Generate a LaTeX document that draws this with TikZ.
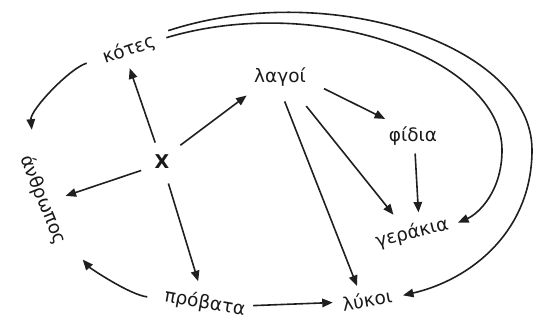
\documentclass[tikz,border=0pt]{standalone}
\usepackage{fontspec}
\setmainfont{DejaVu Sans}
\usetikzlibrary{arrows.meta}

\tikzset{
  animal/.style={font=\fontsize{18.5}{20}\selectfont, text=black!90, inner sep=0pt},
  eats/.style={draw=black!88, line width=1.6pt, -{Triangle[length=10.5pt,width=8.5pt]}},
}

\begin{document}
\begin{tikzpicture}[x=1pt, y=-1pt]
  \useasboundingbox (0,0) rectangle (540,323);

  % the animals, round the ring
  \node[animal, rotate=19]  (kotes)     at (129, 50) {κότες};
  \node[animal]             (lagoi)     at (280, 77) {λαγοί};
  \node[animal]             (fidia)     at (413,136) {φίδια};
  \node[animal, rotate=14]  (gerakia)   at (412,233) {γεράκια};
  \node[animal, rotate=10]  (lykoi)     at (367,300) {λύκοι};
  \node[animal, rotate=-10] (probata)   at (205,303) {πρόβατα};
  \node[animal, rotate=-68] (anthropos) at ( 43,200) {άνθρωπος};

  % X in the middle
  \node[animal, font=\fontsize{19}{20}\selectfont\bfseries] (X) at (162,162) {X};

  % out of X
  \draw[eats, shorten <=13pt, shorten >=8pt]  (X.110) -- (kotes.241);
  \draw[eats, shorten <=16pt, shorten >=15pt] (X.52)  -- (lagoi.204);
  \draw[eats, shorten <=14pt, shorten >=13pt] (X.208) -- (anthropos.68);
  \draw[eats, shorten <=15pt, shorten >=12pt] (X.286) -- (probata.118);

  % into άνθρωπος
  \draw[eats, shorten <=17pt, shorten >=23pt]
    (kotes.179) .. controls (70,68) and (30,110) .. (anthropos.169);
  \draw[eats, shorten <=17pt, shorten >=24pt]
    (probata.184) .. controls (130,295) and (90,268) .. (anthropos.8);

  % the rest
  \draw[eats, shorten <=7pt,  shorten >=9pt]  (probata.6) -- (lykoi.175);
  \draw[eats, shorten <=16pt, shorten >=8pt]  (lagoi.263) -- (lykoi.127);
  \draw[eats, shorten <=25pt, shorten >=14pt] (lagoi.318) -- (gerakia.129);
  \draw[eats, shorten <=20pt, shorten >=17pt] (lagoi.354) -- (fidia.143);
  \draw[eats, shorten <=8pt,  shorten >=9pt]  (fidia.280) -- (gerakia.45);

  % the two long curves from κότες
  \draw[eats, shorten <=12pt, shorten >=10pt]
    (kotes.0) .. controls (320,-8) and (502,60) .. (502,150)
              .. controls (502,192) and (478,214) .. (gerakia.356);
  \draw[eats, shorten <=16pt, shorten >=11pt]
    (kotes.12) .. controls (330,-22) and (532,45) .. (532,150)
               .. controls (532,232) and (470,280) .. (lykoi.355);

\end{tikzpicture}
\end{document}
